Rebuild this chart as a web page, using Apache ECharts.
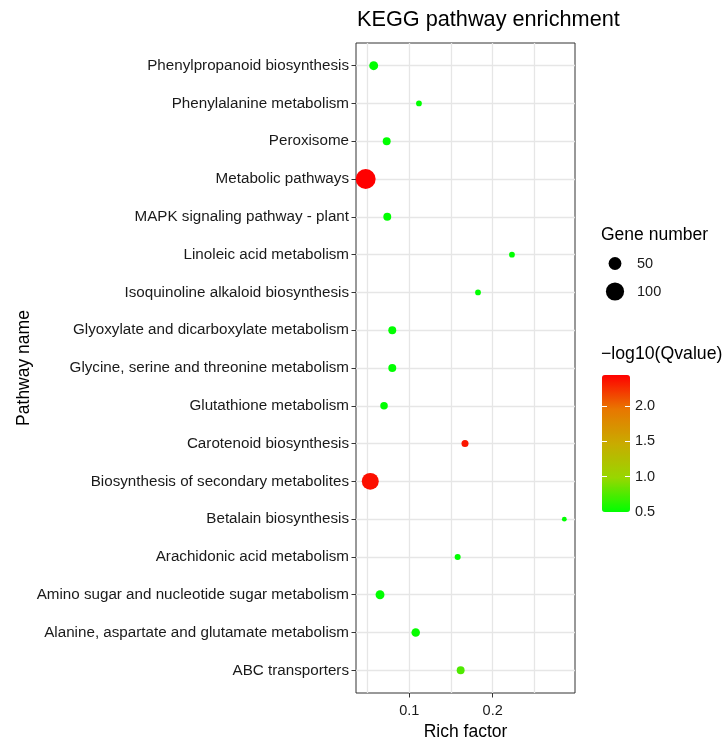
<!DOCTYPE html>
<html>
<head>
<meta charset="utf-8">
<script src="https://cdn.jsdelivr.net/npm/echarts@6/dist/echarts.min.js"></script>
<style>
  html, body { margin: 0; padding: 0; background: #fff; }
  #chart { width: 727px; height: 738px; }
</style>
</head>
<body>
<div id="chart"></div>
<script>
// KEGG pathways, listed bottom to top on the y axis
const pathways = [
  'ABC transporters',
  'Alanine, aspartate and glutamate metabolism',
  'Amino sugar and nucleotide sugar metabolism',
  'Arachidonic acid metabolism',
  'Betalain biosynthesis',
  'Biosynthesis of secondary metabolites',
  'Carotenoid biosynthesis',
  'Glutathione metabolism',
  'Glycine, serine and threonine metabolism',
  'Glyoxylate and dicarboxylate metabolism',
  'Isoquinoline alkaloid biosynthesis',
  'Linoleic acid metabolism',
  'MAPK signaling pathway - plant',
  'Metabolic pathways',
  'Peroxisome',
  'Phenylalanine metabolism',
  'Phenylpropanoid biosynthesis'
];
const richFactor = [0.1616, 0.1077, 0.0649, 0.158, 0.2859, 0.0532, 0.1668, 0.0697, 0.0796, 0.0796, 0.1824, 0.2231, 0.0736, 0.0477, 0.0729, 0.1116, 0.0573];
const geneNumber = [19, 22, 24, 11, 7, 87, 15, 17, 19, 19, 10, 10, 19, 120, 19, 10, 24];
const negLog10Q  = [0.75, 0.52, 0.5, 0.5, 0.5, 2.38, 2.35, 0.5, 0.5, 0.5, 0.5, 0.5, 0.5, 2.44, 0.5, 0.5, 0.5];

// axis breaks
const xMin = 0.0361, xMax = 0.2987;
const xTickValues = [0.1, 0.2];
const xGridValues = [0.05, 0.1, 0.15, 0.2, 0.25];
const sizeBreaks = [50, 100];
const qMin = 0.5, qMax = 2.44;
const qTickValues = [0.5, 1.0, 1.5, 2.0];

const FONT = '"Liberation Sans", Arial, Helvetica, sans-serif';
const INK = '#1a1a1a';
const GRIDLINE = '#e6e6e6';

// point diameter grows with the square root of the gene count
const keySize = v => 1.82 * Math.sqrt(v[2]);
const pointSize = v => 1.82 * Math.sqrt(v[3]);

const points = pathways.map((p, i) => [richFactor[i], i, negLog10Q[i], geneNumber[i]]);
const rowIndex = pathways.map((p, i) => i);

const chart = echarts.init(document.getElementById('chart'), null, { renderer: 'canvas' });

chart.setOption({
  animation: false,
  backgroundColor: '#ffffff',
  textStyle: { fontFamily: FONT, color: INK },
  title: [
    { text: 'KEGG pathway enrichment', left: 357, top: 9, padding: 0,
      textStyle: { fontSize: 21.7, fontWeight: 'normal', color: '#000', fontFamily: FONT, lineHeight: 22 } },
    { text: 'Gene number', left: 601, top: 226, padding: 0,
      textStyle: { fontSize: 17.5, fontWeight: 'normal', color: '#000', fontFamily: FONT, lineHeight: 18 } },
    { text: '\u2212log10(Qvalue)', left: 601, top: 345, padding: 0,
      textStyle: { fontSize: 17.7, fontWeight: 'normal', color: '#000', fontFamily: FONT, lineHeight: 18 } }
  ],
  grid: [
    // main panel
    { left: 356, top: 43, width: 219, height: 650, outerBoundsMode: 'none', containLabel: false,
      show: true, borderColor: '#333', borderWidth: 1, backgroundColor: '#fff' },
    // colour bar scale
    { left: 602, top: 375, width: 28, height: 137, outerBoundsMode: 'none', show: false },
    // size key
    { left: 600, top: 249.5, width: 30, height: 56, outerBoundsMode: 'none', show: false }
  ],
  xAxis: [
    { type: 'value', gridIndex: 0, min: xMin, max: xMax, position: 'bottom',
      name: 'Rich factor', nameLocation: 'middle', nameGap: 27,
      nameTextStyle: { fontSize: 17.5, color: '#000', fontFamily: FONT },
      axisLine: { show: false, onZero: false },
      axisTick: { show: true, customValues: xTickValues, length: 4.5, lineStyle: { color: '#333' } },
      axisLabel: { customValues: xTickValues, formatter: v => v.toFixed(1), fontSize: 14.5, color: INK, margin: 10 },
      splitLine: { show: false } },
    { type: 'value', gridIndex: 0, min: xMin, max: xMax, position: 'bottom',
      axisLine: { show: false, onZero: false },
      axisTick: { show: false, customValues: xGridValues },
      axisLabel: { show: false, customValues: xGridValues },
      splitLine: { show: true, lineStyle: { color: GRIDLINE, width: 1.3 } } },
    { type: 'value', gridIndex: 1, show: false, min: 0, max: 1, axisLine: { onZero: false } },
    { type: 'value', gridIndex: 2, show: false, min: 0, max: 1, axisLine: { onZero: false } }
  ],
  yAxis: [
    { type: 'value', gridIndex: 0, min: -0.6, max: pathways.length - 0.4,
      name: 'Pathway name', nameLocation: 'middle', nameGap: 322, nameRotate: 90,
      nameTextStyle: { fontSize: 17.5, color: '#000', fontFamily: FONT },
      axisLine: { show: false, onZero: false },
      axisTick: { show: true, customValues: rowIndex, length: 4.5, lineStyle: { color: '#333' } },
      axisLabel: { customValues: rowIndex, formatter: v => pathways[Math.round(v)] || '',
        fontSize: 15.2, color: INK, margin: 7 },
      splitLine: { show: true, lineStyle: { color: GRIDLINE, width: 1.3 } } },
    { type: 'value', gridIndex: 1, min: qMin, max: qMax, position: 'right', z: 10,
      axisLine: { show: false, onZero: false },
      axisTick: { show: true, inside: true, length: 5, customValues: qTickValues, lineStyle: { color: '#fff', width: 1 } },
      axisLabel: { customValues: qTickValues, formatter: v => v.toFixed(1), fontSize: 14.5, color: INK, margin: 5 },
      splitLine: { show: false } },
    { type: 'value', gridIndex: 1, min: qMin, max: qMax, position: 'left', z: 10,
      axisLine: { show: false, onZero: false },
      axisTick: { show: true, inside: true, length: 5, customValues: qTickValues, lineStyle: { color: '#fff', width: 1 } },
      axisLabel: { show: false },
      splitLine: { show: false } },
    { type: 'category', gridIndex: 2, data: sizeBreaks.map(String), inverse: true, position: 'right',
      axisLine: { show: false, onZero: false }, axisTick: { show: false },
      axisLabel: { fontSize: 14.5, color: INK, margin: 7 },
      splitLine: { show: false } }
  ],
  visualMap: [{
    type: 'continuous',
    seriesIndex: 0,
    dimension: 2,
    min: qMin,
    max: qMax,
    calculable: false,
    realtime: false,
    text: null,
    showLabel: false,
    itemWidth: 28,
    itemHeight: 137,
    left: 597,
    top: 370,
    padding: 5,
    inRange: { color: ['#00ff00', '#98d700', '#c9ab00', '#e87700', '#ff0000'] }
  }],
  series: [
    { type: 'scatter', xAxisIndex: 0, yAxisIndex: 0, data: points,
      symbol: 'circle', symbolSize: pointSize, clip: false, z: 5,
      itemStyle: { opacity: 1 } },
    { type: 'scatter', xAxisIndex: 3, yAxisIndex: 3,
      data: sizeBreaks.map(b => [0.5, String(b), b]),
      symbol: 'circle', symbolSize: keySize,
      itemStyle: { color: '#000', opacity: 1 } }
  ]
});
</script>
</body>
</html>
